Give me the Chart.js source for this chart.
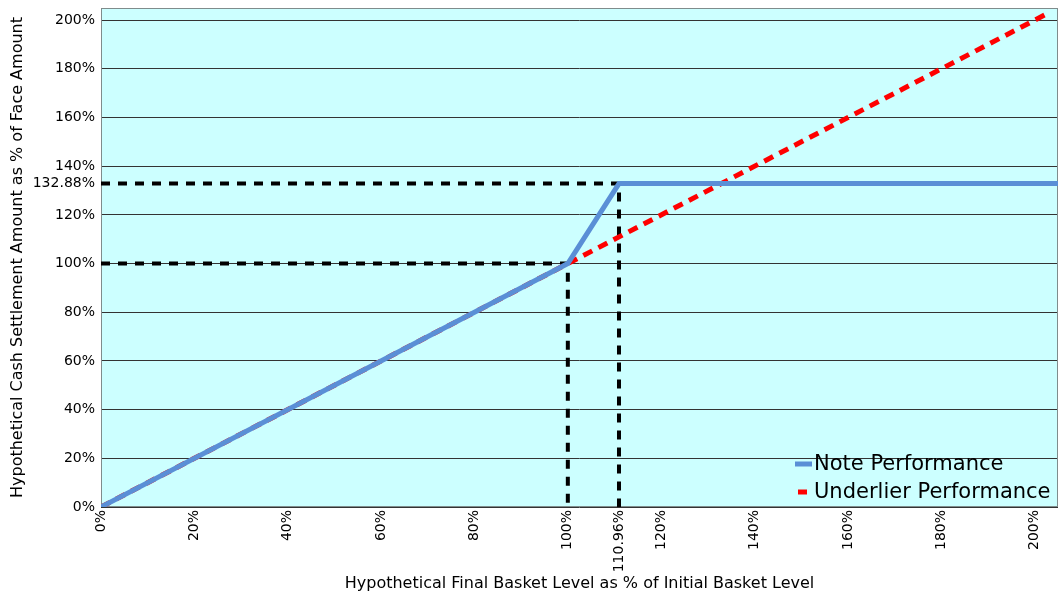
<!DOCTYPE html>
<html>
<head>
<meta charset="utf-8">
<script src="https://cdn.jsdelivr.net/npm/chart.js@4/dist/chart.umd.min.js"></script>
<style>
  html, body { margin: 0; padding: 0; background: #fff; }
  #wrap { width: 1060px; height: 597px; }
</style>
</head>
<body>
<div id="wrap"><canvas id="payoff"></canvas></div>
<script>
// ----- Data -----
const xTicks = [0, 20, 40, 60, 80, 100, 110.96, 120, 140, 160, 180, 200];
const yTicks = [0, 20, 40, 60, 80, 100, 120, 132.88, 140, 160, 180, 200];

const noteX = [0, 100, 110.96, 205];
const noteY = [0, 100, 132.88, 132.88];

const underX = [0, 203];
const underY = [0, 203];

// dashed reference lines: cap level and initial level
const capGuideX = [0, 110.96, 110.96];
const capGuideY = [132.88, 132.88, 0];
const parGuideX = [0, 100, 100];
const parGuideY = [100, 100, 0];

const axisMax = 205;

// ----- Helpers -----
function toPoints(xs, ys) {
  return xs.map((x, i) => ({ x: x, y: ys[i] }));
}
function pct(v) {
  return v + "%";
}

const NOTE_COLOR = "#5a8fd6";
const UNDER_COLOR = "#ff0000";

// plot background + frame
const plotFrame = {
  id: "plotFrame",
  beforeDatasetsDraw(chart) {
    const { ctx, chartArea: a } = chart;
    ctx.save();
    ctx.strokeStyle = "#7f8c8c";
    ctx.lineWidth = 1;
    ctx.strokeRect(a.left + 0.5, a.top + 0.5, a.right - a.left - 1, a.bottom - a.top - 1);
    ctx.restore();
  },
  beforeDraw(chart) {
    const { ctx, chartArea: a } = chart;
    ctx.save();
    ctx.fillStyle = "#ccffff";
    ctx.fillRect(a.left, a.top, a.right - a.left, a.bottom - a.top);
    ctx.restore();
  },
};

// legend sitting inside the lower right corner of the plot
const cornerLegend = {
  id: "cornerLegend",
  afterDraw(chart) {
    const { ctx, chartArea: a } = chart;
    const items = chart.data.datasets.filter((d) => d.inLegend);
    ctx.save();
    ctx.font = "21px 'DejaVu Sans'";
    ctx.textBaseline = "middle";
    ctx.fillStyle = "#000";
    items.forEach((d, i) => {
      const y = a.bottom - 43 + i * 28;
      const x = a.right - 263;
      ctx.strokeStyle = d.borderColor;
      ctx.lineWidth = 5;
      ctx.beginPath();
      if (d.borderDash && d.borderDash.length) {
        ctx.moveTo(x + 3, y);
        ctx.lineTo(x + 12, y);
      } else {
        ctx.moveTo(x, y);
        ctx.lineTo(x + 17, y);
      }
      ctx.stroke();
      ctx.fillText(d.label, x + 19, y + 1);
    });
    ctx.restore();
  },
};

// ----- Chart -----
function buildChart() {
  const canvas = document.getElementById("payoff");
  new Chart(canvas.getContext("2d"), {
    type: "scatter",
    data: {
      datasets: [
        {
          label: "Note Performance",
          inLegend: true,
          data: toPoints(noteX, noteY),
          showLine: true,
          borderColor: NOTE_COLOR,
          borderWidth: 5,
          pointRadius: 0,
          order: 0,
        },
        {
          label: "Underlier Performance",
          inLegend: true,
          data: toPoints(underX, underY),
          showLine: true,
          borderColor: UNDER_COLOR,
          borderWidth: 5,
          borderDash: [10, 7],
          pointRadius: 0,
          order: 1,
        },
        {
          label: "cap",
          data: toPoints(capGuideX, capGuideY),
          showLine: true,
          borderColor: "#000",
          borderWidth: 4,
          borderDash: [9, 8],
          pointRadius: 0,
          order: 2,
        },
        {
          label: "par",
          data: toPoints(parGuideX, parGuideY),
          showLine: true,
          borderColor: "#000",
          borderWidth: 4,
          borderDash: [9, 8],
          pointRadius: 0,
          order: 2,
        },
      ],
    },
    options: {
      responsive: true,
      maintainAspectRatio: false,
      animation: false,
      layout: { padding: { left: 0, right: 2, top: 8, bottom: 0 } },
      plugins: {
        legend: { display: false },
        tooltip: { enabled: false },
      },
      scales: {
        x: {
          type: "linear",
          min: 0,
          max: axisMax,
          afterBuildTicks: (scale) => {
            scale.ticks = xTicks.map((v) => ({ value: v }));
          },
          afterFit: (scale) => {
            scale.height = 90;
            scale.paddingLeft = 0;
            scale.paddingRight = 0;
          },
          grid: { display: false, drawTicks: false },
          border: { display: false },
          ticks: {
            autoSkip: false,
            minRotation: 90,
            maxRotation: 90,
            padding: 3,
            color: "#000",
            font: { family: "DejaVu Sans", size: 14 },
            callback: (v) => pct(v),
          },
          title: {
            display: true,
            text: "Hypothetical Final Basket Level as % of Initial Basket Level",
            color: "#000",
            font: { family: "DejaVu Sans", size: 16 },
            padding: { top: 0, bottom: 4 },
          },
        },
        y: {
          type: "linear",
          min: 0,
          max: axisMax,
          afterBuildTicks: (scale) => {
            scale.ticks = yTicks.map((v) => ({ value: v }));
          },
          afterFit: (scale) => {
            scale.width = 101;
            scale.paddingTop = 0;
            scale.paddingBottom = 0;
          },
          grid: {
            drawTicks: false,
            color: (c) => (c.tick && c.tick.value % 20 === 0 ? "#333" : "rgba(0,0,0,0)"),
            lineWidth: 1,
          },
          border: { display: false },
          ticks: {
            autoSkip: false,
            padding: 6,
            color: "#000",
            font: { family: "DejaVu Sans", size: 14 },
            callback: (v) => pct(v),
          },
          title: {
            display: true,
            text: "Hypothetical Cash Settlement Amount as % of Face Amount",
            color: "#000",
            font: { family: "DejaVu Sans", size: 16 },
            padding: { top: 8, bottom: 0 },
          },
        },
      },
    },
    plugins: [plotFrame, cornerLegend],
  });
}

document.addEventListener("DOMContentLoaded", buildChart);
</script>
</body>
</html>
